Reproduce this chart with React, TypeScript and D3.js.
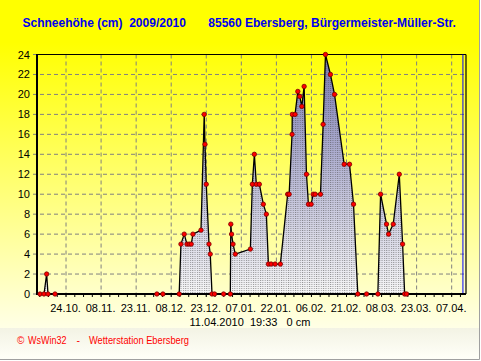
import React from "react";
import * as d3 from "d3";

const titleLeft = "Schneehöhe (cm)  2009/2010";
const titleRight = "85560 Ebersberg, Bürgermeister-Müller-Str.";
const statusText = "11.04.2010  19:33   0 cm";
const footerParts = ["©", "WsWin32", "-", "Wetterstation Ebersberg"];

const obsDates = [
  "2009-10-12 21:00", "2009-10-14 14:00", "2009-10-15 17:00", "2009-10-16 07:00", "2009-10-19 07:00",
  "2009-12-01 21:00", "2009-12-04 11:00", "2009-12-11 10:00", "2009-12-12 04:00", "2009-12-13 14:00",
  "2009-12-14 18:00", "2009-12-15 17:00", "2009-12-16 14:00", "2009-12-17 07:00", "2009-12-20 18:00",
  "2009-12-22 03:00", "2009-12-22 11:00", "2009-12-23 00:00", "2009-12-24 04:00", "2009-12-24 17:00",
  "2009-12-25 11:00", "2009-12-26 13:00", "2009-12-30 10:00", "2010-01-02 07:00", "2010-01-02 12:00",
  "2010-01-02 20:00", "2010-01-03 11:00", "2010-01-04 10:00", "2010-01-10 21:00", "2010-01-11 17:00",
  "2010-01-12 14:00", "2010-01-13 10:00", "2010-01-14 17:00", "2010-01-16 10:00", "2010-01-17 17:00",
  "2010-01-18 14:00", "2010-01-19 18:00", "2010-01-21 11:00", "2010-01-23 17:00", "2010-01-26 20:00",
  "2010-01-27 11:00", "2010-01-28 17:00", "2010-01-28 19:00", "2010-01-30 00:00", "2010-01-31 04:00",
  "2010-02-01 00:00", "2010-02-01 21:00", "2010-02-02 21:00", "2010-02-03 21:00", "2010-02-04 17:00",
  "2010-02-05 21:00", "2010-02-06 18:00", "2010-02-07 14:00", "2010-02-09 21:00", "2010-02-11 00:00",
  "2010-02-12 00:00", "2010-02-14 03:00", "2010-02-15 21:00", "2010-02-20 00:00", "2010-02-22 07:00",
  "2010-02-24 00:00", "2010-02-25 20:00", "2010-03-01 14:00", "2010-03-06 10:00", "2010-03-07 14:00",
  "2010-03-10 03:00", "2010-03-11 00:00", "2010-03-13 00:00", "2010-03-15 14:00", "2010-03-17 00:00",
  "2010-03-17 21:00", "2010-03-18 17:00",
];

const snowDepth = [
  0, 0, 2, 0, 0,
  0, 0, 0, 5, 6,
  5, 5, 5, 6, 6.4,
  18, 15, 11, 5, 4,
  0, 0, 0, 0, 7,
  6, 5, 4, 4.5, 11,
  14, 11, 11, 9, 8,
  3, 3, 3, 3, 10,
  10, 16, 18, 18, 20.3,
  19.8, 18.8, 20.8, 12, 9,
  9, 10, 10, 10, 17,
  24, 22, 20, 13, 13,
  9, 0, 0, 0, 10,
  7, 6, 7, 12, 5,
  0, 0,
];

const yTicks = [0, 2, 4, 6, 8, 10, 12, 14, 16, 18, 20, 22, 24];
const xTickDates = [
  "2009-10-24", "2009-11-08", "2009-11-23", "2009-12-08", "2009-12-23", "2010-01-07",
  "2010-01-22", "2010-02-06", "2010-02-21", "2010-03-08", "2010-03-23", "2010-04-07",
];
const xTickLabels = [
  "24.10.", "08.11.", "23.11.", "08.12.", "23.12.", "07.01.",
  "22.01.", "06.02.", "21.02.", "08.03.", "23.03.", "07.04.",
];
const domainStart = "2009-10-11 14:00";
const domainEnd = "2010-04-13 03:00";
const nowStamp = "2010-04-11 19:33";

const FONT = "'Liberation Sans', Arial, sans-serif";

export default function App() {
  const W = 481, H = 361;
  const left = 37, right = 466, top = 54.5, bottom = 294;
  const parse = d3.timeParse("%Y-%m-%d %H:%M");
  const parseDay = d3.timeParse("%Y-%m-%d");
  const x = d3.scaleTime().domain([parse(domainStart)!, parse(domainEnd)!]).range([left, right]);
  const y = d3.scaleLinear().domain([0, 24]).range([bottom, top]);

  const pts = obsDates.map((d, i) => ({ t: parse(d)!, v: snowDepth[i] }));
  const area = d3.area<any>().x((d) => x(d.t)).y0(bottom).y1((d) => y(d.v));
  const line = d3.line<any>().x((d) => x(d.t)).y((d) => y(d.v));

  const majors = xTickDates.map((d) => parseDay(d)!);
  const base = majors[0];
  const minor: Date[] = [];
  for (let h = -90 * 4; h < 90 * 60; h += 90) {
    const t = d3.timeHour.offset(base, h);
    if (t >= x.domain()[0] && t <= x.domain()[1]) minor.push(t);
  }
  const dayPx = x(d3.timeDay.offset(base, 1)) - x(base);
  const nowX = x(parse(nowStamp)!);

  return (
    <svg width={W} height={H} style={{ position: "absolute", left: 0, top: 0 }} fontFamily={FONT}>
      <defs>
        <linearGradient id="bg" x1="0" y1="0" x2="0" y2="328" gradientUnits="userSpaceOnUse">
          <stop offset="0" stopColor="#ffff00" />
          <stop offset="0.13" stopColor="#ffff00" />
          <stop offset="1" stopColor="#ffffe6" />
        </linearGradient>
        <linearGradient id="foot" x1="0" y1="328" x2="0" y2="359" gradientUnits="userSpaceOnUse">
          <stop offset="0" stopColor="#f3f3e4" />
          <stop offset="1" stopColor="#fffff8" />
        </linearGradient>
        <linearGradient id="fill" x1="0" y1={top} x2="0" y2={bottom} gradientUnits="userSpaceOnUse">
          <stop offset="0" stopColor="#7a7ab4" />
          <stop offset="1" stopColor="#f6f6f6" />
        </linearGradient>
        <pattern id="dots" patternUnits="userSpaceOnUse" x={x(base)} y={0} width={dayPx} height={2}>
          <rect x={0} y={0} width={1} height={1} fill="#4a4a4a" />
        </pattern>
      </defs>
      <rect x={0} y={0} width={W} height={328} fill="url(#bg)" />
      <rect x={0} y={328} width={W} height={31} fill="url(#foot)" />
      <rect x={479} y={0} width={2} height={H} fill="#ffffff" />
      <rect x={0} y={359} width={W} height={2} fill="#ffffff" />
      <line x1={479.5} y1={0} x2={479.5} y2={359.5} stroke="#a0a0a0" />
      <line x1={0} y1={359.5} x2={479.5} y2={359.5} stroke="#a0a0a0" />

      <text x={22.5} y={27} fontSize={12} fontWeight="bold" fill="#0000ee" style={{ whiteSpace: "pre" }}>
        {titleLeft}
      </text>
      <text x={208.3} y={27} fontSize={12} fontWeight="bold" fill="#0000ee">
        {titleRight}
      </text>

      {/* grid */}
      {yTicks.map((t) => (
        <line key={"h" + t} x1={33} x2={right} y1={y(t)} y2={y(t)} stroke="#808080" strokeDasharray="4,3" />
      ))}
      {majors.map((d, i) => (
        <line key={"v" + i} x1={x(d)} x2={x(d)} y1={top} y2={bottom + 4} stroke="#808080" strokeDasharray="4,3" />
      ))}

      {/* area */}
      <path d={area(pts)!} fill="url(#fill)" />
      <path d={area(pts)!} fill="url(#dots)" opacity={0.55} />
      <path d={line(pts)!} fill="none" stroke="#000" strokeWidth={1.3} />

      {/* frame */}
      <line x1={left} x2={right} y1={top} y2={top} stroke="#000" strokeWidth={1.2} />
      <line x1={right} x2={right} y1={top} y2={bottom} stroke="#000" strokeWidth={1.2} />
      <line x1={nowX} x2={nowX} y1={top} y2={bottom} stroke="#0000ff" strokeWidth={1} />
      <line x1={left} x2={left} y1={top - 0.5} y2={bottom + 1} stroke="#000" strokeWidth={2} />
      <line x1={left} x2={right} y1={bottom} y2={bottom} stroke="#000" strokeWidth={2.2} />
      {minor.map((d, i) => (
        <line key={"m" + i} x1={x(d)} x2={x(d)} y1={bottom} y2={bottom + 3} stroke="#000" strokeWidth={1} />
      ))}

      {/* points */}
      {pts.map((p, i) => (
        <circle key={"p" + i} cx={x(p.t)} cy={y(p.v)} r={2.2} fill="#ff0000" stroke="#7a0000" strokeWidth={0.8} />
      ))}

      {/* y labels */}
      {yTicks.map((t) => (
        <text key={"yl" + t} x={30} y={y(t) + 4} fontSize={11} textAnchor="end" fill="#000">
          {t}
        </text>
      ))}
      {/* x labels */}
      {majors.map((d, i) => (
        <text key={"xl" + i} x={x(d) - 0.5} y={312} fontSize={11} textAnchor="middle" fill="#000">
          {xTickLabels[i]}
        </text>
      ))}
      <text x={250} y={326} fontSize={11} textAnchor="middle" fill="#000" style={{ whiteSpace: "pre" }}>
        {statusText}
      </text>

      {/* footer */}
      <text x={17} y={344} fontSize={10} fill="#ff0000">{footerParts[0]}</text>
      <text x={28} y={344} fontSize={10.5} fill="#ff0000" textLength={38.5} lengthAdjust="spacingAndGlyphs">{footerParts[1]}</text>
      <text x={76.5} y={344} fontSize={10.5} fill="#ff0000">{footerParts[2]}</text>
      <text x={89} y={344} fontSize={10.5} fill="#ff0000" textLength={100} lengthAdjust="spacingAndGlyphs">{footerParts[3]}</text>
    </svg>
  );
}
